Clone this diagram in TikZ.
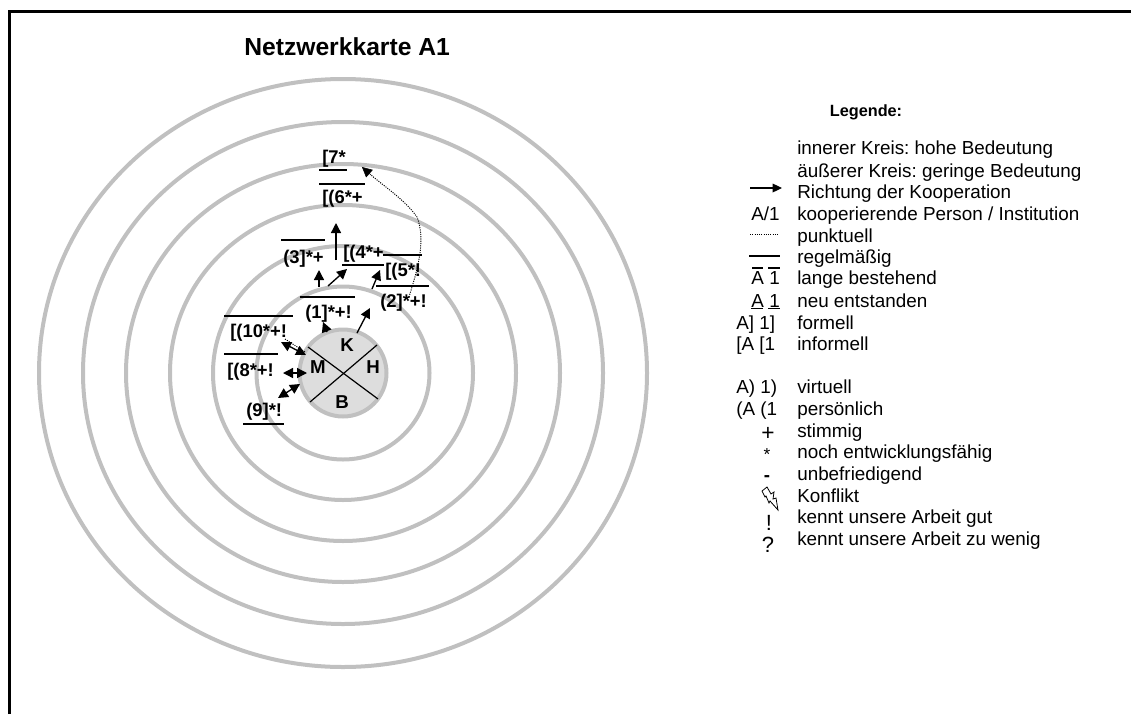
\documentclass[tikz,border=0pt]{standalone}
\usepackage{fontspec}
\setmainfont{Liberation Sans}
\usetikzlibrary{arrows.meta}
\tikzset{
  ring/.style={draw=ringgrey,line width=3pt},
  frameline/.style={draw=black,line width=2.4pt},
  bar/.style={draw=black,line width=1.6pt},
  thinbar/.style={draw=black,line width=0.8pt},
  lab/.style={anchor=base west,inner sep=0pt,font=\fontsize{13.8}{13.8}\bfseries\selectfont},
  hub/.style={anchor=center,inner sep=0pt,font=\fontsize{14}{14}\bfseries\selectfont},
  leg/.style={anchor=base west,inner sep=0pt,font=\fontsize{14.15}{14.15}\selectfont\frenchspacing},
  sym/.style={anchor=base,inner sep=0pt,font=\fontsize{14}{14}\selectfont},
  arr/.style={draw=black,line width=1pt,-{Triangle[length=7.5pt,width=7.5pt]}},
  darr/.style={draw=black,line width=1pt,{Triangle[length=7.5pt,width=7.5pt]}-{Triangle[length=7.5pt,width=7.5pt]}},
  dots/.style={draw=black,line width=0.7pt,dash pattern=on 0.8pt off 0.9pt},
}
\definecolor{ringgrey}{HTML}{C0C0C0}
\definecolor{discgrey}{HTML}{DDDDDD}
\begin{document}
\begin{tikzpicture}[x=0.75pt,y=-0.75pt]
\useasboundingbox (0,0) rectangle (1131,714);
% frame
\coordinate (fa) at (9.5,714); \coordinate (fb) at (9.5,11.5); \coordinate (fc) at (1131,11.5);
\draw[frameline,line cap=butt,line join=miter] (fa) -- (fb) -- (fc);
% rings
\coordinate (ctr) at (343,373);
\draw[ring] (ctr) ellipse [x radius=304,y radius=294];
\draw[ring] (ctr) ellipse [x radius=260,y radius=251];
\draw[ring] (ctr) ellipse [x radius=217,y radius=209];
\draw[ring] (ctr) ellipse [x radius=173,y radius=168];
\draw[ring] (ctr) ellipse [x radius=130,y radius=127];
\draw[ring] (ctr) ellipse [x radius=86.5,y radius=86.5];
\draw[ring,fill=discgrey] (ctr) ellipse [x radius=43.5,y radius=43.5];
% cross
\coordinate (c1) at (308,347); \coordinate (c2) at (378,399);
\coordinate (c3) at (310,402); \coordinate (c4) at (377,345);
\draw[draw=black,line width=0.9pt] (c1) -- (c2);
\draw[draw=black,line width=0.9pt] (c3) -- (c4);
\node[hub] (K) at (347,345) {K};
\node[hub] (M) at (318,367) {M};
\node[hub] (H) at (373,367) {H};
\node[hub] (B) at (342,402) {B};
% title
\node[anchor=base west,inner sep=0pt,font=\fontsize{18.5}{18.5}\bfseries\selectfont] (title) at (244,55) {Netzwerkkarte A1};
\node[anchor=center,inner sep=0pt,font=\fontsize{12.2}{12.2}\bfseries\selectfont] (legtitle) at (866,112) {Legende:};
% labels
\node[lab] (n7) at (322,163) {[7*};
\node[lab] (n6) at (322,203) {[(6*+};
\node[lab] (n3) at (283,263) {(3]*+};
\node[lab] (n4) at (343,258) {[(4*+};
\node[lab] (n5) at (385,276) {[(5*!};
\node[lab] (n2) at (380,307) {(2]*+!};
\node[lab] (n1) at (305,318) {(1]*+!};
\node[lab] (n10) at (230,337) {[(10*+!};
\node[lab] (n8) at (227,376) {[(8*+!};
\node[lab] (n9) at (246,416) {(9]*!};
% bars
\coordinate (b7a) at (319,170); \coordinate (b7b) at (347,170); \draw[bar] (b7a) -- (b7b);
\coordinate (b6a) at (319,184); \coordinate (b6b) at (365,184); \draw[bar] (b6a) -- (b6b);
\coordinate (b3a) at (281,240); \coordinate (b3b) at (325,240); \draw[bar] (b3a) -- (b3b);
\coordinate (b4a) at (342,265); \coordinate (b4b) at (384,265); \draw[bar] (b4a) -- (b4b);
\coordinate (b5a) at (383,255); \coordinate (b5b) at (422,255); \draw[bar] (b5a) -- (b5b);
\coordinate (b2a) at (376,286); \coordinate (b2b) at (429,286); \draw[thinbar] (b2a) -- (b2b);
\coordinate (b1a) at (300,297); \coordinate (b1b) at (355,297); \draw[bar] (b1a) -- (b1b);
\coordinate (b10a) at (224,316); \coordinate (b10b) at (293,316); \draw[bar] (b10a) -- (b10b);
\coordinate (b8a) at (224,354); \coordinate (b8b) at (278,354); \draw[bar] (b8a) -- (b8b);
\coordinate (b9a) at (243,424); \coordinate (b9b) at (284,424); \draw[bar] (b9a) -- (b9b);
% arrows
\coordinate (a1s) at (336,260); \coordinate (a1e) at (336,223); \draw[arr] (a1s) -- (a1e);
\coordinate (a2s) at (319,287); \coordinate (a2e) at (319,270); \draw[arr] (a2s) -- (a2e);
\coordinate (a3s) at (328,286); \coordinate (a3e) at (347,269); \draw[arr] (a3s) -- (a3e);
\coordinate (a4s) at (372,289); \coordinate (a4e) at (380,270); \draw[arr] (a4s) -- (a4e);
\coordinate (a5s) at (327,332); \coordinate (a5e) at (323,322); \draw[arr] (a5s) -- (a5e);
\coordinate (a6s) at (357,333); \coordinate (a6e) at (370,308); \draw[arr] (a6s) -- (a6e);
\coordinate (a7s) at (281,342); \coordinate (a7e) at (306,355); \draw[darr] (a7s) -- (a7e);
\coordinate (a8s) at (283,373); \coordinate (a8e) at (307,373); \draw[darr] (a8s) -- (a8e);
\coordinate (a9s) at (278,398); \coordinate (a9e) at (300,384); \draw[darr] (a9s) -- (a9e);
\coordinate (d10s) at (285,339); \coordinate (d10e) at (305,352); \draw[dots] (d10s) -- (d10e);
% dotted curve
\coordinate (ds) at (409,297); \coordinate (dm) at (417,217); \coordinate (dh) at (371,175); \coordinate (de) at (362,167);
\draw[dots] (ds) .. controls (418,268) and (426,240) .. (dm) .. controls (405,200) and (385,187) .. (dh);
\draw[draw=black,line width=0.4pt,-{Triangle[length=7.5pt,width=7.5pt]}] (dh) -- (de);
% legend text
\foreach \nm/\yy/\tx in {l1/154/{innerer Kreis: hohe Bedeutung},l2/177/{äußerer Kreis: geringe Bedeutung},l3/198/{Richtung der Kooperation},l4/220/{kooperierende Person / Institution},l5/242/punktuell,l6/263/regelmäßig,l7/284/{lange bestehend},l8/307/{neu entstanden},l9/329/formell,l10/350/informell,l11/393/virtuell,l12/415/persönlich,l13/437/stimmig,l14/458/{noch entwicklungsfähig},l15/480/unbefriedigend,l16/502/Konflikt,l17/523/{kennt unsere Arbeit gut},l18/545/{kennt unsere Arbeit zu wenig}}
  {\node[leg] (\nm) at (797,\yy) {\tx};}
% legend symbols
\coordinate (la) at (750,188); \coordinate (lb) at (782,188);
\draw[draw=black,line width=0.9pt,-{Triangle[length=7pt,width=6.5pt]}] (la) -- (lb);
\node[leg] (s1) at (751,220) {A/1};
\coordinate (lc) at (750,234); \coordinate (ld) at (779,234); \draw[dots] (lc) -- (ld);
\coordinate (le) at (749,256); \coordinate (lf) at (780,256); \draw[thinbar] (le) -- (lf);
\node[leg] (s2) at (751,284) {A};
\node[leg] (s2b) at (769,284) {1};
\coordinate (o1) at (752,268); \coordinate (o2) at (763,268); \draw[thinbar] (o1) -- (o2);
\coordinate (o3) at (768,268); \coordinate (o4) at (780,268); \draw[thinbar] (o3) -- (o4);
\node[leg] (s3) at (751,307) {A};
\node[leg] (s3b) at (769,307) {1};
\coordinate (u1) at (751,308.5); \coordinate (u2) at (763,308.5); \draw[thinbar] (u1) -- (u2);
\coordinate (u3) at (768,308.5); \coordinate (u4) at (780,308.5); \draw[thinbar] (u3) -- (u4);
\node[leg] (s4) at (736,329) {A] 1]};
\node[leg] (s5) at (736,350) {[A [1};
\node[leg] (s6) at (736,393) {A) 1)};
\node[leg] (s7) at (736,415) {(A (1};
\node[sym,font=\fontsize{17}{17}\selectfont] (s8) at (768,440.5) {+};
\node[sym,font=\fontsize{13}{13}\selectfont] (s9) at (767,460) {*};
\node[sym,font=\fontsize{14}{14}\bfseries\selectfont] (s10) at (767,481) {-};
\draw[draw=black,line width=0.6pt,line join=miter] (762,491) -- (767,487) -- (771,494) -- (774,492) -- (773,499) -- (776,498) -- (778,510) -- (770,501) -- (769,503) -- (766,496) -- (765,497) -- cycle;
\node[sym,font=\fontsize{16.5}{16.5}\selectfont] (s11) at (769,530) {!};
\node[sym,font=\fontsize{16.5}{16.5}\selectfont] (s12) at (768,552) {?};
\end{tikzpicture}
\end{document}
